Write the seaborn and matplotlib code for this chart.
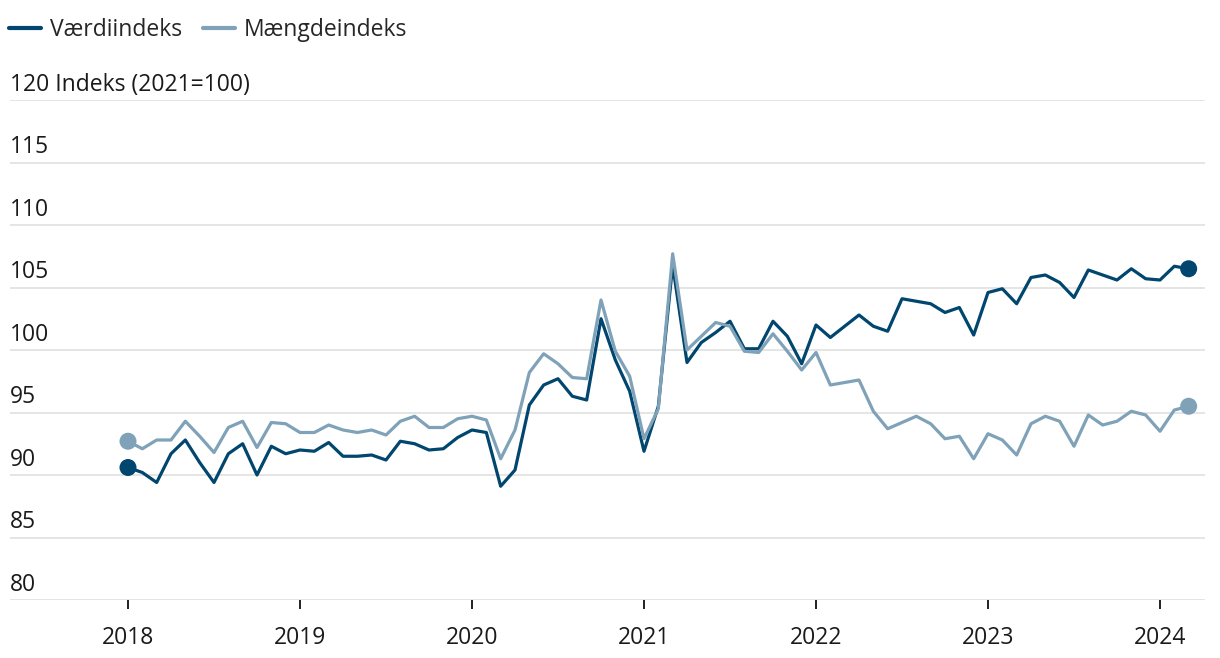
import numpy as np
import pandas as pd
import matplotlib
matplotlib.use("Agg")
import matplotlib.pyplot as plt
import matplotlib.transforms as mtransforms
import seaborn as sns

# ---- data (monthly, Jan 2018 - Mar 2024, 2021=100) ----
start_year = 2018
vaerdi = [90.6, 90.2, 89.4, 91.7, 92.8, 91.0, 89.4, 91.7, 92.5, 90.0, 92.3, 91.7,
          92.0, 91.9, 92.6, 91.5, 91.5, 91.6, 91.2, 92.7, 92.5, 92.0, 92.1, 93.0,
          93.6, 93.4, 89.1, 90.4, 95.6, 97.2, 97.7, 96.3, 96.0, 102.5, 99.2, 96.7,
          91.9, 95.5, 106.8, 99.0, 100.6, 101.4, 102.3, 100.1, 100.1, 102.3, 101.1, 98.9,
          102.0, 101.0, 101.9, 102.8, 101.9, 101.5, 104.1, 103.9, 103.7, 103.0, 103.4, 101.2,
          104.6, 104.9, 103.7, 105.8, 106.0, 105.4, 104.2, 106.4, 106.0, 105.6, 106.5, 105.7,
          105.6, 106.7, 106.5]
maengde = [92.7, 92.1, 92.8, 92.8, 94.3, 93.1, 91.8, 93.8, 94.3, 92.2, 94.2, 94.1,
           93.4, 93.4, 94.0, 93.6, 93.4, 93.6, 93.2, 94.3, 94.7, 93.8, 93.8, 94.5,
           94.7, 94.4, 91.3, 93.6, 98.2, 99.7, 98.9, 97.8, 97.7, 104.0, 99.9, 97.9,
           92.9, 95.3, 107.7, 100.0, 101.1, 102.2, 101.9, 99.9, 99.8, 101.3, 99.9, 98.4,
           99.8, 97.2, 97.4, 97.6, 95.1, 93.7, 94.2, 94.7, 94.1, 92.9, 93.1, 91.3,
           93.3, 92.8, 91.6, 94.1, 94.7, 94.3, 92.3, 94.8, 94.0, 94.3, 95.1, 94.8,
           93.5, 95.2, 95.5]
series_names = ["Værdiindeks", "Mængdeindeks"]
year_ticks = [2018, 2019, 2020, 2021, 2022, 2023, 2024]
y_ticks = [80, 85, 90, 95, 100, 105, 110, 115, 120]
y_unit_label = "Indeks (2021=100)"

colors = {"Værdiindeks": "#00466E", "Mængdeindeks": "#7FA2B8"}

n = len(vaerdi)
t = [start_year + i / 12 for i in range(n)]
df = pd.DataFrame({
    "t": t * 2,
    "value": vaerdi + maengde,
    "serie": [series_names[0]] * n + [series_names[1]] * n,
})
ends = df.groupby("serie", sort=False).nth([0, -1]).reset_index(drop=True)

sns.set_theme(style="white")
plt.rcParams["font.family"] = ["Open Sans", "DejaVu Sans"]

W, H = 1220, 658
fig = plt.figure(figsize=(W / 100, H / 100), dpi=100)
ax = fig.add_axes([10 / W, 1 - 600 / H, (1205 - 10) / W, (600 - 100) / H])

sns.lineplot(data=df, x="t", y="value", hue="serie", palette=colors,
             hue_order=series_names, linewidth=2.3, ax=ax, legend=True)
sns.scatterplot(data=ends, x="t", y="value", hue="serie", palette=colors,
                hue_order=series_names, s=150, edgecolor="none", ax=ax,
                legend=False, zorder=5)

ax.set_xlim(start_year + (10 - 128) / 172, start_year + (1205 - 128) / 172)
ax.set_ylim(80, 120)
ax.set_xlabel("")
ax.set_ylabel("")
for s in ax.spines.values():
    s.set_visible(False)

# gridlines
ax.set_yticks(y_ticks)
ax.yaxis.grid(True, color="#E3E3E3", linewidth=1.3)
ax.set_axisbelow(True)
ax.tick_params(axis="y", length=0, labelleft=False)

# y labels above gridlines
trans = mtransforms.blended_transform_factory(ax.transAxes, ax.transData)
for v in y_ticks:
    lab = f"{v}" + (f" {y_unit_label}" if v == y_ticks[-1] else "")
    ax.text(0, v, lab, transform=trans + mtransforms.ScaledTranslation(0, 2.5 / 72, fig.dpi_scale_trans),
            ha="left", va="bottom", fontsize=16.5, color="#1a1a1a")

ax.set_xticks(year_ticks)
ax.set_xticklabels([str(y) for y in year_ticks])
ax.tick_params(axis="x", direction="out", length=6.5, width=1.3, color="#111111",
               pad=12, labelsize=16.5, labelcolor="#1a1a1a", bottom=True)

handles, labels = ax.get_legend_handles_labels()
leg = ax.legend(handles, labels, loc="upper left", bbox_to_anchor=(9 / W, 1 - 18 / H),
                bbox_transform=fig.transFigure, ncol=2, frameon=False,
                fontsize=16.5, handlelength=1.4, handletextpad=0.4,
                columnspacing=0.9, borderpad=0, borderaxespad=0)
for h in leg.get_lines():
    h.set_linewidth(3)

fig.savefig("out.png", dpi=100)
